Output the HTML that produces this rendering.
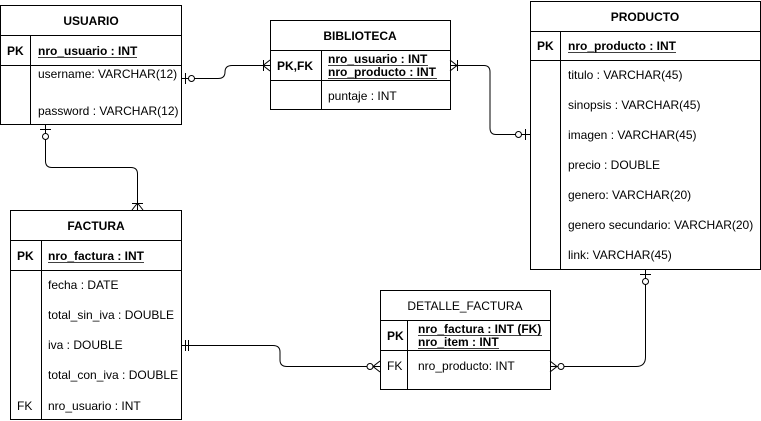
<!DOCTYPE html>
<html><head><meta charset="utf-8"><style>
html,body{margin:0;padding:0;background:#fff;}
svg{display:block;}
text{font-family:"Liberation Sans",Arial,sans-serif;font-size:12px;fill:#000;}
.b{font-weight:bold;}
.t{font-size:12.5px;}
</style></head><body>
<svg width="761" height="421" viewBox="0 0 761 421" xmlns="http://www.w3.org/2000/svg">
<g fill="none" stroke="#000" stroke-width="1">
<!-- USUARIO -->
<rect x="0.5" y="5.5" width="181" height="119"/>
<line x1="0" y1="35.5" x2="181" y2="35.5"/>
<line x1="0" y1="65.5" x2="181" y2="65.5"/>
<line x1="30.5" y1="35" x2="30.5" y2="125"/>
<!-- BIBLIOTECA -->
<rect x="270.5" y="20.5" width="180" height="89"/>
<line x1="270" y1="50.5" x2="450" y2="50.5"/>
<line x1="270" y1="80.5" x2="450" y2="80.5"/>
<line x1="321.5" y1="50" x2="321.5" y2="110"/>
<!-- PRODUCTO -->
<rect x="530.5" y="1.5" width="230" height="268"/>
<line x1="530" y1="31.5" x2="760" y2="31.5"/>
<line x1="530" y1="60.5" x2="760" y2="60.5"/>
<line x1="560.5" y1="31" x2="560.5" y2="270"/>
<!-- FACTURA -->
<rect x="10.5" y="210.5" width="171" height="209"/>
<line x1="10" y1="240.5" x2="181" y2="240.5"/>
<line x1="10" y1="270.5" x2="181" y2="270.5"/>
<line x1="41.5" y1="240" x2="41.5" y2="420"/>
<!-- DETALLE -->
<rect x="380.5" y="290.5" width="170" height="99"/>
<line x1="380" y1="320.5" x2="550" y2="320.5"/>
<line x1="380" y1="350.5" x2="550" y2="350.5"/>
<line x1="407.5" y1="320" x2="407.5" y2="390"/>

<!-- connectors -->
<path d="M181 78.5 H218 Q225 78.5 225 72 Q225 65.5 232 65.5 H270"/>
<path d="M450 65.5 H484 Q490 65.5 490 72 V128 Q490 134.5 496 134.5 H530"/>
<path d="M45.5 125 V161 Q45.5 167.5 52 167.5 H131 Q137.5 167.5 137.5 174 V210"/>
<path d="M181 345.5 H273 Q280 345.5 280 352 V360 Q280 366.5 287 366.5 H380"/>
<path d="M550 366.5 H636 Q645.5 366.5 645.5 357 V270"/>

<!-- markers USUARIO-BIBLIOTECA -->
<line x1="185.5" y1="73" x2="185.5" y2="84"/>
<circle cx="191.5" cy="78.5" r="3" fill="#fff"/>
<path d="M270 60 L263 65.5 L270 71"/><line x1="263.5" y1="60" x2="263.5" y2="71"/>
<!-- BIBLIOTECA-PRODUCTO -->
<path d="M450 60 L457 65.5 L450 71"/><line x1="457.5" y1="60" x2="457.5" y2="71"/>
<line x1="525.5" y1="129" x2="525.5" y2="140"/>
<circle cx="518.5" cy="134.5" r="3" fill="#fff"/>
<!-- USUARIO-FACTURA -->
<line x1="40" y1="129.5" x2="51" y2="129.5"/>
<circle cx="45.5" cy="136.5" r="3" fill="#fff"/>
<path d="M132 210 L137.5 203 L143 210"/><line x1="132" y1="203.5" x2="143" y2="203.5"/>
<!-- FACTURA-DETALLE -->
<line x1="185.5" y1="340" x2="185.5" y2="351"/>
<line x1="188.5" y1="340" x2="188.5" y2="351"/>
<path d="M380 361 L373 366.5 L380 372"/>
<circle cx="370" cy="366.5" r="3" fill="#fff"/>
<!-- DETALLE-PRODUCTO -->
<path d="M550 361 L557 366.5 L550 372"/>
<circle cx="561" cy="366.5" r="3" fill="#fff"/>
<line x1="640" y1="274.5" x2="651" y2="274.5"/>
<circle cx="645.5" cy="281.5" r="3" fill="#fff"/>

<!-- underlines -->
<line x1="38" y1="57.5" x2="137" y2="57.5" stroke-width="0.8"/>
<line x1="328" y1="65.5" x2="428" y2="65.5" stroke-width="0.8"/>
<line x1="328" y1="78.5" x2="437" y2="78.5" stroke-width="0.8"/>
<line x1="568" y1="52.5" x2="676" y2="52.5" stroke-width="0.8"/>
<line x1="48" y1="262.5" x2="144" y2="262.5" stroke-width="0.8"/>
<line x1="418" y1="335.5" x2="542" y2="335.5" stroke-width="0.8"/>
<line x1="418" y1="348.5" x2="499" y2="348.5" stroke-width="0.8"/>
</g>

<!-- USUARIO text -->
<text x="91" y="25" text-anchor="middle" class="b">USUARIO</text>
<text x="7" y="55" class="b">PK</text>
<text x="38" y="55" class="b">nro_usuario : INT</text>
<text x="38" y="78">username: VARCHAR(12)</text>
<text x="38" y="115">password : VARCHAR(12)</text>
<!-- BIBLIOTECA -->
<text x="360" y="40" text-anchor="middle" class="b">BIBLIOTECA</text>
<text x="277" y="70" class="b">PK,FK</text>
<text x="328" y="63" class="b">nro_usuario : INT</text>
<text x="328" y="76" class="b">nro_producto : INT</text>
<text x="328" y="100">puntaje : INT</text>
<!-- PRODUCTO -->
<text x="645" y="21" text-anchor="middle" class="b">PRODUCTO</text>
<text x="537" y="50" class="b">PK</text>
<text x="568" y="50" class="b">nro_producto : INT</text>
<text x="568" y="79">titulo : VARCHAR(45)</text>
<text x="568" y="109">sinopsis : VARCHAR(45)</text>
<text x="568" y="139">imagen : VARCHAR(45)</text>
<text x="568" y="169">precio : DOUBLE</text>
<text x="568" y="199">genero: VARCHAR(20)</text>
<text x="568" y="229">genero secundario: VARCHAR(20)</text>
<text x="568" y="259">link: VARCHAR(45)</text>
<!-- FACTURA -->
<text x="96" y="230" text-anchor="middle" class="b">FACTURA</text>
<text x="17" y="260" class="b">PK</text>
<text x="48" y="260" class="b">nro_factura : INT</text>
<text x="48" y="289">fecha : DATE</text>
<text x="48" y="319">total_sin_iva : DOUBLE</text>
<text x="48" y="349">iva : DOUBLE</text>
<text x="48" y="379">total_con_iva : DOUBLE</text>
<text x="17" y="410">FK</text>
<text x="48" y="410">nro_usuario : INT</text>
<!-- DETALLE -->
<text x="465" y="310" text-anchor="middle">DETALLE_FACTURA</text>
<text x="387" y="340" class="b">PK</text>
<text x="418" y="333" class="b">nro_factura : INT (FK)</text>
<text x="418" y="346" class="b">nro_item : INT</text>
<text x="387" y="370">FK</text>
<text x="418" y="370">nro_producto: INT</text>
</svg>
</body></html>
